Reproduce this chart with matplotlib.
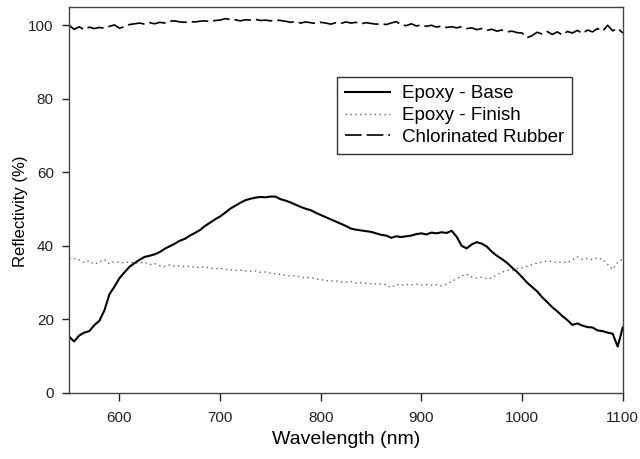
import numpy as np
import matplotlib
matplotlib.use("Agg")
import matplotlib.pyplot as plt

plt.rcParams['font.family'] = ['Liberation Sans', 'DejaVu Sans']

wavelength = np.arange(550, 1101, 5)

epoxy_base = [
    15.3, 14.0, 15.6, 16.4, 16.8, 18.4, 19.6, 22.4, 26.8, 28.9,
    31.2, 32.8, 34.3, 35.3, 36.2, 37.0, 37.3, 37.7, 38.3, 39.2,
    39.9, 40.6, 41.4, 41.9, 42.8, 43.5, 44.3, 45.4, 46.3, 47.2,
    48.0, 49.0, 50.1, 50.9, 51.7, 52.4, 52.8, 53.1, 53.3, 53.2,
    53.4, 53.4, 52.7, 52.3, 51.8, 51.2, 50.6, 50.1, 49.7, 49.0,
    48.4, 47.8, 47.2, 46.6, 46.0, 45.4, 44.7, 44.4, 44.2, 44.0,
    43.8, 43.4, 43.0, 42.8, 42.2, 42.6, 42.4, 42.6, 42.8, 43.2,
    43.4, 43.1, 43.6, 43.4, 43.7, 43.5, 44.1, 42.5, 40.0, 39.3,
    40.4, 41.0, 40.6, 39.8, 38.4, 37.3, 36.4, 35.4, 34.1, 32.9,
    31.5, 30.0, 28.8, 27.6, 26.0, 24.7, 23.3, 22.2, 20.9, 19.8,
    18.5, 18.9, 18.3, 17.9, 17.8, 17.0, 16.8, 16.4, 16.1, 12.6,
    17.8,
]

epoxy_finish = [
    36.7, 36.5, 36.2, 35.4, 35.9, 35.0, 35.6, 36.3, 35.1, 35.7,
    35.5, 35.3, 35.7, 35.2, 35.4, 35.5, 34.9, 35.2, 34.6, 34.4,
    34.8, 34.4, 34.6, 34.3, 34.5, 34.1, 34.2, 34.3, 33.9, 33.8,
    33.9, 33.6, 33.5, 33.3, 33.4, 33.2, 33.1, 33.2, 32.8, 32.9,
    32.6, 32.4, 32.2, 32.0, 31.8, 31.9, 31.5, 31.3, 31.4, 31.0,
    30.8, 30.6, 30.4, 30.5, 30.2, 30.1, 30.3, 29.9, 30.0, 29.8,
    29.7, 29.6, 29.7, 29.4, 28.6, 29.5, 29.3, 29.5, 29.4, 29.6,
    29.4, 29.5, 29.3, 29.4, 29.1, 29.6, 30.3, 31.0, 31.8, 32.3,
    31.5, 31.2, 31.5, 31.0, 31.3, 32.1, 32.8, 33.4, 33.3, 33.8,
    34.0, 34.4, 34.9, 35.3, 35.6, 35.9, 35.7, 35.5, 35.6, 35.4,
    36.2, 37.0, 36.3, 36.6, 36.2, 36.8, 36.3, 35.0, 33.6, 35.5,
    36.4,
]

chlorinated_rubber = [
    100.0, 98.9, 99.6, 98.8, 99.5, 99.1, 99.4, 99.2, 99.7, 100.1,
    99.2, 99.6, 100.2, 100.4, 100.6, 100.3, 100.7, 100.4, 100.8, 100.6,
    101.1, 101.2, 100.9, 100.8, 101.0, 100.9, 101.1, 101.2, 101.0, 101.3,
    101.4, 101.8, 101.6, 101.5, 101.2, 101.5, 101.4, 101.6, 101.3, 101.4,
    101.2, 101.4, 101.3, 101.1, 100.8, 101.0, 100.6, 100.9, 100.7, 100.5,
    100.8, 100.6, 100.3, 100.7, 100.5, 100.9, 100.6, 100.8, 100.4, 100.7,
    100.5, 100.3, 100.4, 100.2, 100.6, 101.0, 100.1, 99.9, 100.4, 99.8,
    100.1, 99.7, 100.0, 99.5, 99.8, 99.4, 99.6, 99.3, 99.6, 99.1,
    99.3, 98.8, 99.1, 98.6, 98.9, 98.4, 98.7, 98.2, 98.4, 98.0,
    97.9, 96.6, 97.2, 98.1, 97.6, 98.3, 97.5, 98.2, 97.4, 98.3,
    97.9, 98.6, 97.8, 98.7, 98.2, 99.1, 98.4, 100.0, 98.5, 99.2,
    97.9,
]

series_labels = ["Epoxy - Base", "Epoxy - Finish", "Chlorinated Rubber"]
x_ticks = [600, 700, 800, 900, 1000, 1100]
y_ticks = [0, 20, 40, 60, 80, 100]

fig = plt.figure(figsize=(6.4, 4.59), dpi=100)
ax = fig.add_axes([0.108, 0.144, 0.865, 0.841])

ax.plot(wavelength, epoxy_base, color='black', lw=1.5, ls='-', label=series_labels[0])
ax.plot(wavelength, epoxy_finish, color='#666666', lw=1.0, ls=(0, (1, 2.5)), label=series_labels[1])
ax.plot(wavelength, chlorinated_rubber, color='black', lw=1.2, ls=(0, (10, 3)), label=series_labels[2])

ax.set_xlim(550, 1100)
ax.set_ylim(0, 105)
ax.set_xticks(x_ticks)
ax.set_yticks(y_ticks)
ax.tick_params(direction='out', length=5, width=1, labelsize=11, top=False, right=False, colors='#222222')
ax.tick_params(axis='x', length=6, pad=7)
ax.tick_params(axis='y', pad=6)
for s in ax.spines.values():
    s.set_color('#444444')
    s.set_linewidth(1.0)

ax.set_xlabel("Wavelength (nm)", fontsize=14, labelpad=4)
ax.set_ylabel("Reflectivity (%)", fontsize=12, labelpad=-1)
ax.yaxis.set_label_coords(-0.075, 0.47)

leg = ax.legend(loc='upper left', bbox_to_anchor=(0.484, 0.819), fontsize=13.5,
                frameon=True, fancybox=False, edgecolor='black', handlelength=2.4,
                handletextpad=0.6, borderpad=0.45, labelspacing=0.25, borderaxespad=0)
leg.get_frame().set_linewidth(1.0)

fig.savefig("out.png", dpi=100)
